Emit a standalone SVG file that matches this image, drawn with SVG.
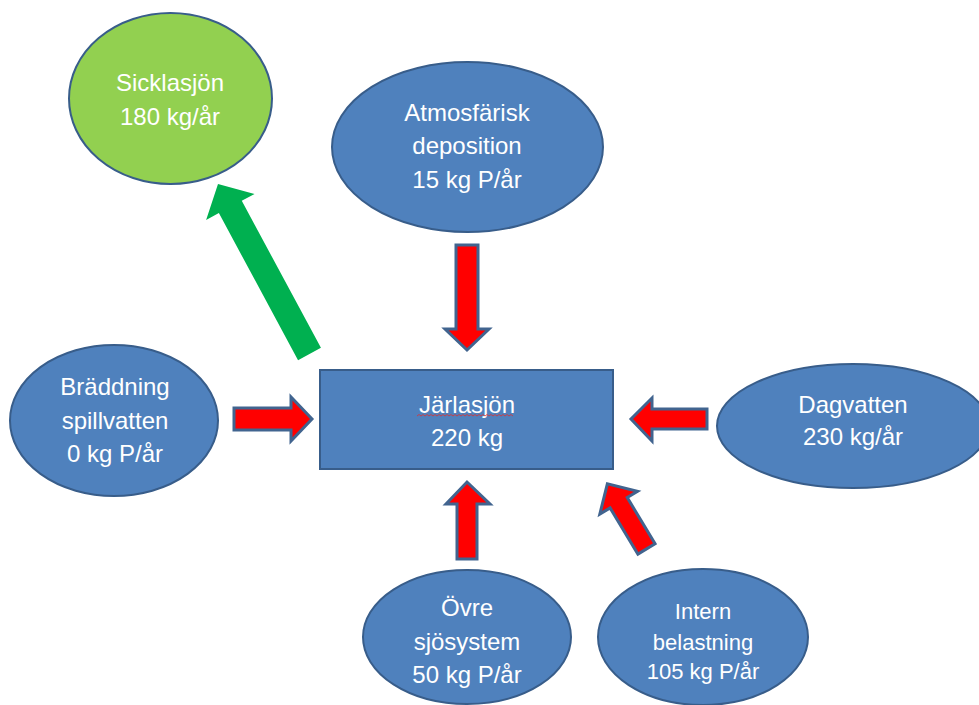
<svg xmlns="http://www.w3.org/2000/svg" width="979" height="705" viewBox="0 0 979 705">
<style>
.node{fill:#4F81BD;stroke:#385D8A;stroke-width:2}
.green{fill:#92D050;stroke:#385D8A;stroke-width:2}
.lbl{fill:#FFFFFF;font-family:"Liberation Sans",Arial,sans-serif;font-size:24px;text-anchor:middle}
.small{font-size:22px}
.red{fill:#FF0000;stroke:#41648F;stroke-width:3;stroke-linejoin:miter}
.out{fill:#00B050}
</style>
<rect width="979" height="705" fill="#FFFFFF"/>
<g id="sicklasjon">
<ellipse class="green" cx="170.5" cy="98.5" rx="101.5" ry="85.5"/>
<text class="lbl" x="170" y="91">Sicklasjön</text>
<text class="lbl" x="170" y="125">180 kg/år</text>
</g>
<g id="atmosfarisk">
<ellipse class="node" cx="467.5" cy="147" rx="135.5" ry="85"/>
<text class="lbl" x="467" y="121">Atmosfärisk</text>
<text class="lbl" x="467" y="154">deposition</text>
<text class="lbl" x="467" y="188">15 kg P/år</text>
</g>
<g id="braddning">
<ellipse class="node" cx="114" cy="420.5" rx="104" ry="75.5"/>
<text class="lbl" x="115" y="395">Bräddning</text>
<text class="lbl" x="115" y="429">spillvatten</text>
<text class="lbl" x="115" y="462">0 kg P/år</text>
</g>
<g id="jarlasjon">
<rect class="node" x="320" y="370" width="293" height="99"/>
<text class="lbl" x="467" y="413">Järlasjön</text>
<path d="M417,416 l2,-1.5 l2,1.5 l2,-1.5 l2,1.5 l2,-1.5 l2,1.5 l2,-1.5 l2,1.5 l2,-1.5 l2,1.5 l2,-1.5 l2,1.5 l2,-1.5 l2,1.5 l2,-1.5 l2,1.5 l2,-1.5 l2,1.5 l2,-1.5 l2,1.5 l2,-1.5 l2,1.5 l2,-1.5 l2,1.5 l2,-1.5 l2,1.5 l2,-1.5 l2,1.5 l2,-1.5 l2,1.5 l2,-1.5 l2,1.5 l2,-1.5 l2,1.5 l2,-1.5 l2,1.5 l2,-1.5 l2,1.5 l2,-1.5 l2,1.5 l2,-1.5 l2,1.5 l2,-1.5 l2,1.5 l2,-1.5 l2,1.5 l2,-1.5 l2,1.5" fill="none" stroke="#E03030" stroke-width="0.8"/>
<text class="lbl" x="467" y="446">220 kg</text>
</g>
<g id="dagvatten">
<ellipse class="node" cx="853" cy="426" rx="136" ry="62"/>
<text class="lbl" x="853" y="413">Dagvatten</text>
<text class="lbl" x="853" y="445">230 kg/år</text>
</g>
<g id="ovre">
<ellipse class="node" cx="467" cy="637" rx="104" ry="67"/>
<text class="lbl" x="467" y="616">Övre</text>
<text class="lbl" x="467" y="650">sjösystem</text>
<text class="lbl" x="467" y="683">50 kg P/år</text>
</g>
<g id="intern">
<ellipse class="node" cx="703" cy="637" rx="105" ry="68"/>
<text class="lbl small" x="703" y="619">Intern</text>
<text class="lbl small" x="703" y="650">belastning</text>
<text class="lbl small" x="703" y="679">105 kg P/år</text>
</g>
<g id="connectors">
<polygon class="out" transform="translate(309.5,354) rotate(-28.3)" points="-13,0 -13,-167 -27.5,-167 0,-193 27.5,-167 13,-167 13,0"/>
<polygon class="red" points="456,245 478,245 478,329 489,329 467,350 445,329 456,329"/>
<polygon class="red" points="234,408 291,408 291,397 312,419 291,441 291,430 234,430"/>
<polygon class="red" points="707,409 652,409 652,398 631,419 652,441 652,429 707,429"/>
<polygon class="red" points="457,559 457,504 446,504 467,482 490,504 477,504 477,559"/>
<polygon class="red" transform="translate(646.5,549) rotate(-31)" points="-10,0 -10,-54 -22,-54 0,-76 22,-54 10,-54 10,0"/>
</g>
</svg>
